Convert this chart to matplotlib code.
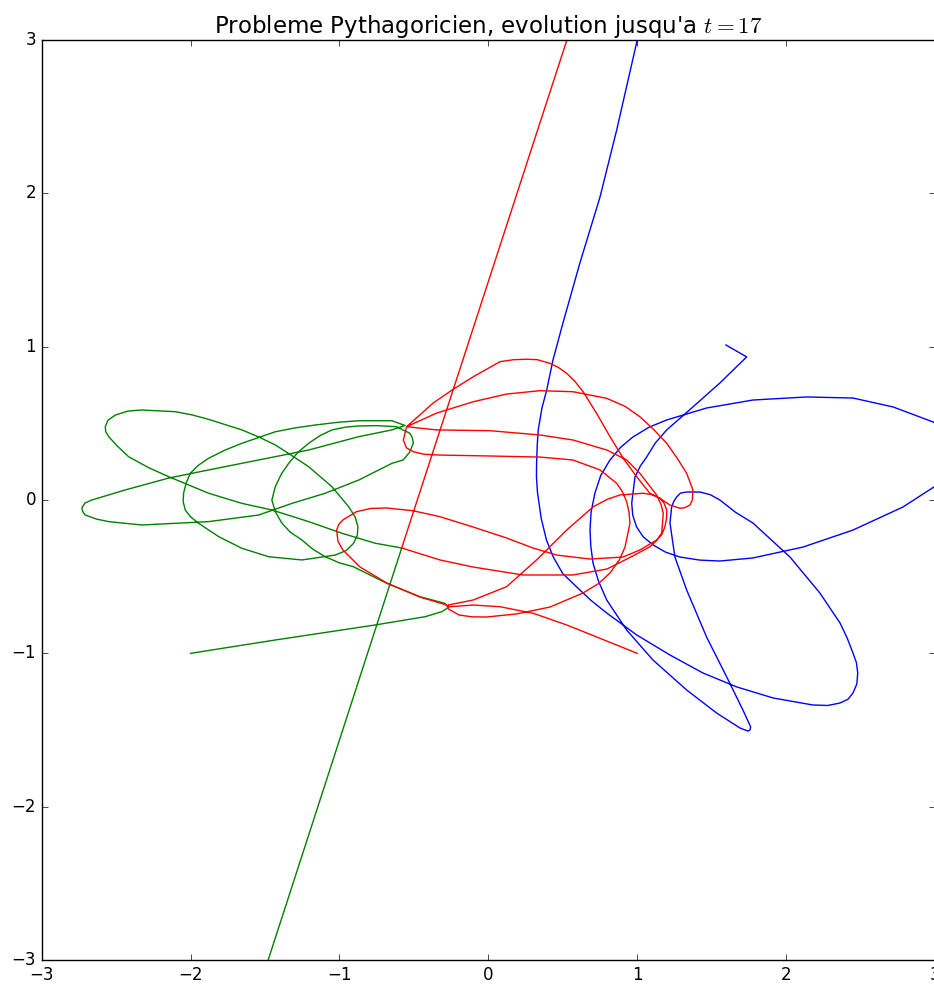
import matplotlib
matplotlib.use("Agg")
import matplotlib.pyplot as plt

plt.style.use("classic")

# Blue body (mass 3) trajectory, data coordinates
blue_x = [1.00, 0.862, 0.750, 0.615, 0.501, 0.434, 0.392, 0.360, 0.335, 0.328, 0.324, 0.323, 0.330,
          0.355, 0.390, 0.436,
          0.500, 0.593, 0.690, 0.795, 0.996, 1.220, 1.441, 1.668, 1.912, 2.180, 2.280, 2.362, 2.415, 2.449,
          2.475, 2.481, 2.472, 2.449, 2.410,
          2.362, 2.227, 2.026, 1.777, 1.660, 1.555, 1.490, 1.421, 1.332, 1.290, 1.265, 1.245, 1.231, 1.220,
          1.253, 1.332,
          1.466, 1.601, 1.710, 1.762, 1.757, 1.744, 1.690, 1.533, 1.332, 1.106, 0.929, 0.795, 0.740, 0.703,
          0.688, 0.683, 0.690, 0.716, 0.755, 0.817, 0.890, 0.971, 1.080, 1.198, 1.466, 1.777, 2.138, 2.449,
          2.718, 2.987, 3.10,
          3.15, 3.10, 2.993, 2.784, 2.449, 2.113, 1.777, 1.555, 1.420, 1.287, 1.190, 1.106, 1.040, 0.996,
          0.970, 0.963, 0.985, 1.020, 1.063, 1.120, 1.198, 1.374, 1.555, 1.735, 1.596]
blue_y = [3.00, 2.413, 1.976, 1.546, 1.154, 0.913, 0.717, 0.600, 0.457, 0.350, 0.241, 0.150, 0.050,
          -0.120, -0.260, -0.372,
          -0.480, -0.567, -0.655, -0.737, -0.880, -1.011, -1.128, -1.219, -1.291, -1.337, -1.340, -1.324, -1.300, -1.259,
          -1.200, -1.128, -1.060, -0.998, -0.900,
          -0.802, -0.607, -0.372, -0.150, -0.080, 0.000, 0.035, 0.052, 0.052, 0.045, 0.020, -0.010, -0.046, -0.150,
          -0.372, -0.587,
          -0.894, -1.154, -1.370, -1.480, -1.500, -1.507, -1.487, -1.389, -1.239, -1.044, -0.848, -0.652, -0.530, -0.411,
          -0.300, -0.196, -0.080, 0.046, 0.160, 0.261, 0.345, 0.411, 0.475, 0.522, 0.600, 0.652, 0.672, 0.665,
          0.607, 0.509, 0.42,
          0.28, 0.16, 0.085, -0.046, -0.196, -0.307, -0.378, -0.398, -0.392, -0.372, -0.340, -0.293, -0.240, -0.176,
          -0.100, -0.020, 0.150, 0.220, 0.280, 0.370, 0.457, 0.607, 0.763, 0.933, 1.011]

# Red body (mass 5) trajectory
red_x = [1.00, 0.750, 0.526, 0.302, 0.078, -0.101, -0.258, -0.269,
         -0.269, -0.101, 0.123, 0.324, 0.526, 0.705, 0.800, 0.884, 1.040, 1.100, 1.153, 1.180, 1.198, 1.197,
         1.186, 1.165, 1.130,
         1.018, 0.904, 0.682, 0.459, 0.300, 0.123, -0.103, -0.325, -0.506, -0.683, -0.790, -0.885, -0.977,
         -1.005, -1.019, -1.010, -0.977, -0.862, -0.683, -0.459, -0.280,
         -0.268, -0.197, -0.110, -0.011, 0.190, 0.414, 0.635, 0.740, 0.817, 0.880, 0.918, 0.951, 0.945,
         0.929, 0.900, 0.862, 0.750,
         0.568, 0.347, 0.011, -0.325, -0.430, -0.504, -0.550, -0.571, -0.549,
         -0.347, -0.101, 0.123, 0.347, 0.570, 0.795, 0.920, 1.018, 1.110, 1.198, 1.270, 1.332, 1.374, 1.370,
         1.354, 1.320, 1.287, 1.220, 1.153,
         1.085, 0.996, 0.906, 0.817, 0.727, 0.637, 0.580, 0.526, 0.470, 0.414, 0.330, 0.257, 0.170, 0.078,
         -0.101, -0.236, -0.370, -0.549,
         -0.347, 0.011, 0.347, 0.570, 0.795, 0.929, 1.018, 1.130, 1.160, 1.175, 1.164, 1.130, 1.085,
         0.971, 0.797, 0.568, 0.232, -0.103, -0.325, -0.582,
         0.628]
red_y = [-1.00, -0.902, -0.815, -0.739, -0.696, -0.685, -0.696, -0.695,
         -0.685, -0.652, -0.565, -0.391, -0.196, -0.044, 0.005, 0.033, 0.044, 0.035, 0.011, -0.020, -0.065, -0.120,
         -0.174, -0.225, -0.261,
         -0.326, -0.372, -0.385, -0.359, -0.313, -0.248, -0.176, -0.109, -0.070, -0.052, -0.055, -0.076, -0.130,
         -0.160, -0.196, -0.270, -0.326, -0.437, -0.541, -0.633, -0.685,
         -0.711, -0.750, -0.762, -0.763, -0.743, -0.698, -0.607, -0.545, -0.476, -0.390, -0.307, -0.152, -0.080,
         -0.011, 0.055, 0.109, 0.196,
         0.261, 0.280, 0.287, 0.293, 0.298, 0.315, 0.340, 0.391, 0.478,
         0.567, 0.641, 0.691, 0.713, 0.706, 0.663, 0.610, 0.543, 0.460, 0.370, 0.270, 0.174, 0.065, 0.000,
         -0.033, -0.050, -0.054, -0.033, 0.011,
         0.044, 0.152, 0.272, 0.413, 0.565, 0.706, 0.775, 0.826, 0.865, 0.891, 0.915, 0.918, 0.915, 0.902,
         0.804, 0.722, 0.633, 0.478,
         0.457, 0.452, 0.424, 0.391, 0.326, 0.261, 0.174, 0.033, -0.030, -0.087, -0.217, -0.265, -0.305,
         -0.365, -0.450, -0.489, -0.489, -0.437, -0.391, -0.313,
         3.30]

# Green body (mass 4) trajectory
green_x = [-2.000, -1.431, -0.760, -0.424, -0.312, -0.267,
           -0.292, -0.459, -0.683, -0.907, -1.000, -1.096, -1.180, -1.252, -1.330, -1.386, -1.431, -1.454,
           -1.431, -1.390, -1.341, -1.280,
           -1.207, -1.130, -1.051, -0.960, -0.871, -0.750, -0.616, -0.527, -0.510, -0.504, -0.530, -0.572,
           -0.648, -0.871, -1.096, -1.319,
           -1.543, -1.879, -2.103, -2.327, -2.550, -2.630, -2.708, -2.725, -2.730, -2.710, -2.663, -2.441,
           -2.147, -1.879,
           -1.543, -1.207, -0.871, -0.648, -0.560,
           -0.648, -0.871, -1.010, -1.163, -1.300, -1.431, -1.655, -1.770, -1.879, -1.950, -2.002, -2.030,
           -2.047, -2.050, -2.036, -2.000, -1.946, -1.811,
           -1.655, -1.476, -1.252, -1.028, -0.955, -0.905, -0.880, -0.876, -0.895, -0.938, -1.051, -1.207,
           -1.320, -1.431, -1.540, -1.655,
           -1.879, -1.990, -2.103, -2.327, -2.420, -2.506, -2.555, -2.573, -2.570, -2.550, -2.490, -2.416,
           -2.280, -2.147, -1.879, -1.655, -1.454,
           -1.207, -0.983, -0.760, -0.582,
           -1.579]
green_y = [-1.000, -0.913, -0.815, -0.761, -0.728, -0.700,
           -0.674, -0.631, -0.543, -0.435, -0.410, -0.370, -0.320, -0.261, -0.210, -0.152, -0.076, 0.000,
           0.087, 0.170, 0.239, 0.310,
           0.370, 0.420, 0.457, 0.475, 0.483, 0.485, 0.478, 0.435, 0.405, 0.370, 0.310, 0.261,
           0.239, 0.130, 0.044, -0.022,
           -0.098, -0.141, -0.152, -0.163, -0.141, -0.125, -0.098, -0.075, -0.052, -0.020, 0.000, 0.065,
           0.143, 0.196,
           0.261, 0.326, 0.413, 0.457, 0.486,
           0.517, 0.517, 0.507, 0.489, 0.470, 0.445, 0.370, 0.325, 0.272, 0.225, 0.174, 0.110,
           0.044, -0.010, -0.065, -0.110, -0.152, -0.239,
           -0.315, -0.370, -0.391, -0.359, -0.330, -0.282, -0.230, -0.174, -0.110, -0.044, 0.087, 0.217,
           0.290, 0.359, 0.410, 0.457,
           0.526, 0.555, 0.576, 0.587, 0.580, 0.554, 0.520, 0.478, 0.445, 0.413, 0.350, 0.282,
           0.210, 0.152, 0.044, -0.022, -0.065,
           -0.141, -0.217, -0.282, -0.313,
           -3.30]

fig = plt.figure(figsize=(9.34, 9.85), dpi=100, facecolor="white")
ax = fig.add_axes([41.7 / 934, 25 / 985, (935 - 41.7) / 934, 920 / 985])

ax.plot(blue_x, blue_y, color="b", lw=1.0)
ax.plot(green_x, green_y, color="g", lw=1.0)
ax.plot(red_x, red_y, color="r", lw=1.0)

ax.set_xlim(-3, 3)
ax.set_ylim(-3, 3)
ax.set_xticks([-3, -2, -1, 0, 1, 2, 3])
ax.set_yticks([-3, -2, -1, 0, 1, 2, 3])
ax.set_title(r"Probleme Pythagoricien, evolution jusqu'a $t=17$", fontsize=16.5)

fig.savefig("out.png", dpi=100, facecolor="white")
